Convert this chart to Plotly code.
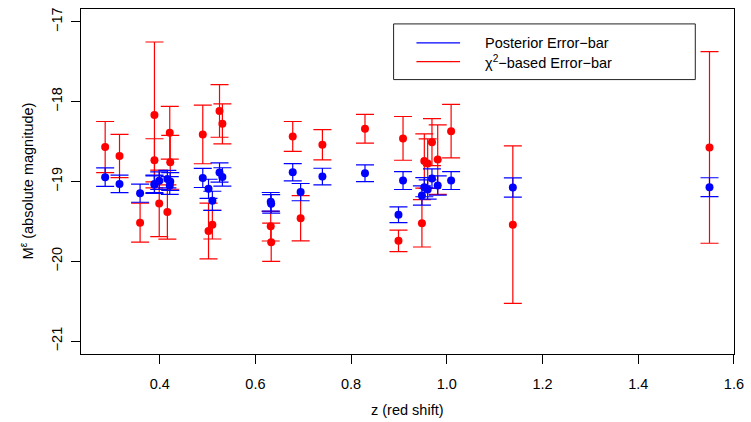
import plotly.graph_objects as go

# ---- data ----
z = [0.286, 0.316, 0.359, 0.389, 0.389, 0.399, 0.416, 0.421, 0.422, 0.490,
     0.502, 0.510, 0.525, 0.531, 0.632, 0.633, 0.678, 0.6945, 0.740, 0.829,
     0.899, 0.9085, 0.948, 0.953, 0.960, 0.969, 0.981, 1.009, 1.138, 1.549]

m_post = [-18.946, -19.030, -19.146, -19.030, -19.040, -18.990, -18.970, -19.050, -19.000, -18.955,
          -19.092, -19.242, -18.888, -18.943, -19.254, -19.280, -18.884, -19.133, -18.938, -18.897,
          -19.416, -18.988, -19.175, -19.071, -19.100, -18.963, -19.050, -18.988, -19.075, -19.071]
err_post = [0.116, 0.110, 0.114, 0.110, 0.110, 0.110, 0.110, 0.110, 0.110, 0.120,
            0.120, 0.120, 0.120, 0.115, 0.116, 0.116, 0.108, 0.108, 0.104, 0.104,
            0.098, 0.112, 0.120, 0.120, 0.120, 0.120, 0.120, 0.112, 0.120, 0.118]

m_chi = [-18.569, -18.681, -19.515, -18.166, -18.735, -19.274, -19.382, -18.390, -18.760, -18.411,
         -19.620, -19.540, -18.116, -18.278, -19.560, -19.760, -18.436, -19.461, -18.540, -18.340,
         -19.743, -18.460, -19.523, -18.743, -18.776, -18.507, -18.726, -18.370, -19.540, -18.573]
err_chi = [0.320, 0.270, 0.243, 0.913, 0.270, 0.416, 0.340, 0.330, 0.337, 0.367,
           0.350, 0.180, 0.330, 0.250, 0.185, 0.240, 0.187, 0.283, 0.190, 0.180,
           0.135, 0.274, 0.297, 0.340, 0.310, 0.295, 0.436, 0.335, 0.985, 1.200]

x_ticks = [0.4, 0.6, 0.8, 1.0, 1.2, 1.4, 1.6]
y_ticks = [-21, -20, -19, -18, -17]
x_range = [0.2355, 1.6002]
y_range = [-21.16, -16.84]

legend_labels = ["Posterior Error\u2212bar", "\u03c7<sup>2</sup>\u2212based Error\u2212bar"]
x_title = "z (red shift)"
y_title = "M<sup>\u03b5</sup> (absolute magnitude)"

# ---- layout geometry ----
W, H = 751, 422
L, R, T, B = 81, 12, 7, 68
PW, PH = W - L - R, H - T - B
FONT = dict(family="Liberation Sans, Arial, Helvetica, sans-serif", size=14.5, color="black")


def px(xp):
    return (xp - L) / PW


def py(yp):
    return (H - B - yp) / PH


fig = go.Figure()

fig.add_trace(go.Scatter(
    x=z, y=m_chi, mode="markers",
    marker=dict(color="#FF0000", size=8),
    error_y=dict(type="data", array=err_chi, color="#FF0000", thickness=1.2, width=9),
    showlegend=False, name="chi2"))

fig.add_trace(go.Scatter(
    x=z, y=m_post, mode="markers",
    marker=dict(color="#0000FF", size=8),
    error_y=dict(type="data", array=err_post, color="#0000FF", thickness=1.2, width=9),
    showlegend=False, name="posterior"))

# manual R-style legend
shapes = [
    dict(type="rect", xref="paper", yref="paper", x0=px(396), x1=px(700), y0=py(78), y1=py(22),
         line=dict(color="#222222", width=1), fillcolor="white", layer="above"),
    dict(type="line", xref="paper", yref="paper", x0=px(419), x1=px(463), y0=py(41), y1=py(41),
         line=dict(color="#0000FF", width=1.2), layer="above"),
    dict(type="line", xref="paper", yref="paper", x0=px(419), x1=px(463), y0=py(60), y1=py(60),
         line=dict(color="#FF0000", width=1.2), layer="above"),
]
annotations = [
    dict(text=legend_labels[0], xref="paper", yref="paper", x=px(486), y=py(41),
         xanchor="left", yanchor="middle", showarrow=False, font=FONT),
    dict(text=legend_labels[1], xref="paper", yref="paper", x=px(486), y=py(60),
         xanchor="left", yanchor="middle", showarrow=False, font=FONT),
    dict(text=x_title, xref="paper", yref="paper", x=px(410), y=py(410),
         xanchor="center", yanchor="middle", showarrow=False, font=FONT),
    dict(text=y_title, xref="paper", yref="paper", x=px(27), y=py(180),
         xanchor="center", yanchor="middle", showarrow=False, font=FONT, textangle=-90),
]

fig.update_layout(
    width=W, height=H,
    margin=dict(l=L, r=R, t=T, b=B),
    paper_bgcolor="white", plot_bgcolor="white",
    font=FONT,
    showlegend=False,
    shapes=shapes,
    annotations=annotations,
    xaxis=dict(range=x_range, tickvals=x_ticks, ticktext=[f"{v:.1f}" for v in x_ticks],
               showgrid=False, zeroline=False, showline=True, mirror=True,
               linecolor="black", linewidth=1, ticks="outside", ticklen=9,
               tickcolor="black", tickwidth=1, ticklabelstandoff=8, tickfont=FONT),
    yaxis=dict(range=y_range, tickvals=y_ticks, ticktext=[f"\u2212{abs(v)}" for v in y_ticks],
               showgrid=False, zeroline=False, showline=True, mirror=True,
               linecolor="black", linewidth=1, ticks="outside", ticklen=9,
               tickcolor="black", tickwidth=1, tickangle=-90, ticklabelstandoff=3,
               tickfont=FONT),
)

fig.write_html("out.html", config={"displayModeBar": False},
               post_script="document.body.style.margin='0';document.body.style.overflow='hidden';")
